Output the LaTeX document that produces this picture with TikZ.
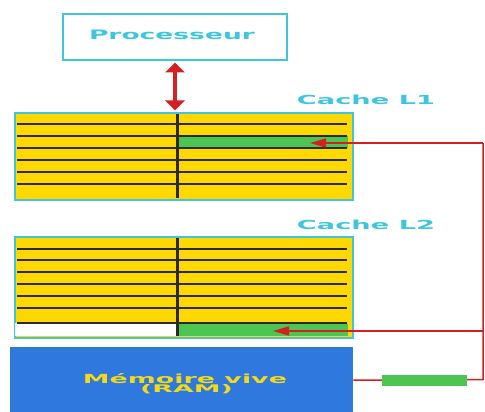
\documentclass[tikz,border=0pt]{standalone}
\usepackage{fontspec}
\setsansfont{DejaVu Sans}
\usepackage{graphicx}
\usetikzlibrary{arrows.meta}
\definecolor{cyanb}{HTML}{3EC6E0}
\definecolor{yel}{HTML}{FFD800}
\definecolor{grn}{HTML}{4CC552}
\definecolor{redl}{HTML}{D42020}
\definecolor{blu}{HTML}{2F78DE}
\definecolor{txtyel}{HTML}{F2DA1A}
\definecolor{rowline}{HTML}{2A2A2A}
\tikzset{
  procbox/.style={draw=cyanb, line width=2pt, fill=white, inner sep=0pt, anchor=north west},
  cachebox/.style={draw=cyanb, line width=2pt, fill=yel, inner sep=0pt, anchor=north west},
  cell/.style={fill=grn, inner sep=0pt, anchor=north west},
  rambox/.style={fill=blu, inner sep=0pt, anchor=north west},
  lbl/.style={text=cyanb, inner sep=0pt, anchor=base, font=\sffamily\bfseries},
  ramlbl/.style={text=txtyel, inner sep=0pt, anchor=base, font=\sffamily\bfseries},
  rowsep/.style={draw=rowline, line width=1.6pt},
  divider/.style={draw=rowline, line width=3pt},
  link/.style={draw=redl, line width=1.5pt},
  linkarrow/.style={link, -{Triangle[length=16pt,width=9pt]}},
  bigarrow/.style={draw=redl, line width=3.5pt, {Triangle[length=10pt,width=19pt]}-{Triangle[length=10pt,width=19pt]}}
}
\begin{document}
\begin{tikzpicture}[x=1pt,y=-1pt]
\useasboundingbox (0,0) rectangle (485,412);
% processor
\node[procbox, minimum width=224pt, minimum height=46pt] (proc) at (62,13) {};
\node[lbl] (proctxt) at (172,40) {\resizebox{166pt}{9.5pt}{Processeur}};
% cache L1
\node[cachebox, minimum width=338pt, minimum height=87pt] (L1) at (14,112) {};
\node[lbl] (L1txt) at (366,105) {\resizebox{138pt}{9.5pt}{Cache L1}};
\node[cell, minimum width=170pt, minimum height=12pt] (g1) at (178,136) {};
\foreach \y in {124,136,148,160,172,184} \draw[rowsep] (17,\y) -- (347,\y);
\draw[divider] (177,114) -- (177,198);
% cache L2
\node[cachebox, minimum width=338pt, minimum height=101pt] (L2) at (14,236) {};
\node[lbl] (L2txt) at (366,229) {\resizebox{138pt}{9.5pt}{Cache L2}};
\fill[white] (15,323) rectangle (177,336);
\node[cell, minimum width=170pt, minimum height=12pt] (g2) at (178,323.5) {};
\foreach \y in {249,260,272,284,296,308,323} \draw[rowsep] (17,\y) -- (347,\y);
\draw[divider] (177,238) -- (177,336);
% RAM
\node[rambox, minimum width=343pt, minimum height=66pt] (ram) at (10,347) {};
\node[ramlbl] (ramtxt1) at (185,383) {\resizebox{204pt}{10pt}{Mémoire vive}};
\node[ramlbl] (ramtxt2) at (186.5,392) {\resizebox{93pt}{8pt}{(RAM)}};
% connectors
\coordinate (t1) at (310,143);
\coordinate (t2) at (273,331);
\coordinate (j1) at (483,143);
\coordinate (j2) at (483,331);
\coordinate (j3) at (483,379.5);
\draw[bigarrow] ([yshift=-1.5pt]proc.south) -- ([yshift=1.5pt]proc.south |- L1.north);
\draw[link] (ram.east) -- (j3) -- (j1);
\draw[linkarrow] (j1) -- (t1);
\draw[linkarrow] (j2) -- (t2);
\node[fill=grn, inner sep=0pt, minimum width=85pt, minimum height=11pt] (pkt) at (424.5,380.5) {};
\end{tikzpicture}
\end{document}
